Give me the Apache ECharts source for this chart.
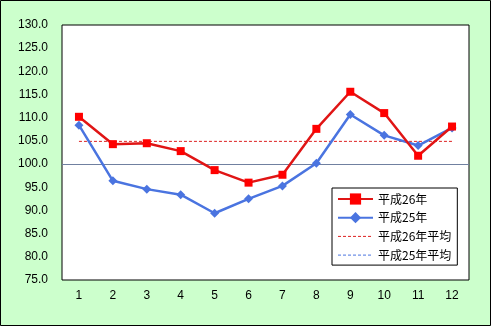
<!DOCTYPE html>
<html><head><meta charset="utf-8">
<script src="https://cdn.jsdelivr.net/npm/echarts@6/dist/echarts.min.js"></script>
<style>html,body{margin:0;padding:0;background:#ccffcc}#c{width:491px;height:326px}</style>
</head><body><div id="c"></div>
<script>
const categories = ['1','2','3','4','5','6','7','8','9','10','11','12'];
const h26 = [110.2,104.3,104.5,102.8,98.7,96.0,97.7,107.6,115.6,111.0,101.8,108.1];
const h25 = [108.4,96.4,94.6,93.4,89.4,92.5,95.3,100.2,110.7,106.2,104.0,107.8];
const avg26 = 104.9;
const avg25 = 100.0;
const baseLine = 100.0;
const yTicks = {min:75, max:130, interval:5};

const red = '#e01515', blue = '#4a74e0', redAvg = '#dd2020', blueAvg = '#4a74e0';
const chart = echarts.init(document.getElementById('c'), null, {renderer:'canvas'});
const lastIdx = categories.length - 1;
const avgLine = v => categories.map(() => v);
chart.setOption({
  backgroundColor:'#ccffcc',
  animation:false,
  textStyle:{fontFamily:'Liberation Sans'},
  graphic:[{type:'rect',shape:{x:0.5,y:0.5,width:490,height:325},style:{fill:'none',stroke:'#000',lineWidth:1},z:100}],
  grid:{left:62,top:25,right:22,bottom:46,show:true,backgroundColor:'#fff',borderColor:'#000',borderWidth:1},
  xAxis:{type:'category',data:categories,boundaryGap:true,
    axisLine:{show:false},axisTick:{show:false},
    axisLabel:{color:'#000',fontSize:12,margin:10,fontFamily:'Liberation Sans'}},
  yAxis:{type:'value',min:yTicks.min,max:yTicks.max,interval:yTicks.interval,
    axisLine:{show:false},axisTick:{show:false},splitLine:{show:false},
    axisLabel:{color:'#000',fontSize:12,margin:14,fontFamily:'Liberation Sans',formatter:v=>v.toFixed(1)}},
  legend:{orient:'vertical',left:332,top:188,width:119,
    backgroundColor:'#fff',borderColor:'#000',borderWidth:1,padding:[4,6,3,5],
    itemWidth:35,itemHeight:14,itemGap:4.7,
    textStyle:{fontFamily:'Noto Sans CJK JP',fontSize:12,color:'#000',lineHeight:14},
    data:[
      {name:'平成26年'},
      {name:'平成25年'},
      {name:'平成26年平均',itemStyle:{opacity:0},lineStyle:{color:redAvg,width:1,type:[3,2]}},
      {name:'平成25年平均',itemStyle:{opacity:0},lineStyle:{color:blueAvg,width:1,type:[3,2]}}
    ]},
  series:[
    {name:'平成25年平均',type:'line',data:[],symbol:'none',
      lineStyle:{color:blueAvg,width:1,type:[3,2]},itemStyle:{color:blueAvg},z:1,
      markLine:{silent:true,symbol:'none',label:{show:false},
        lineStyle:{color:blueAvg,width:1,type:[3,2]},
        data:[[{coord:[0,avg25]},{coord:[lastIdx,avg25]}]]}},
    {name:'base',type:'line',data:[],symbol:'none',z:2,
      markLine:{silent:true,symbol:'none',label:{show:false},
        lineStyle:{color:'#7080a0',width:1,type:'solid'},
        data:[{yAxis:baseLine}]}},
    {name:'平成26年平均',type:'line',data:avgLine(avg26),symbol:'none',silent:true,
      lineStyle:{color:redAvg,width:1,type:[3,2]},itemStyle:{color:redAvg},z:11},
    {name:'平成25年',type:'line',data:h25,symbol:'diamond',symbolSize:9,
      lineStyle:{color:blue,width:2.5},itemStyle:{color:blue},z:20},
    {name:'平成26年',type:'line',data:h26,symbol:'rect',symbolSize:8,
      lineStyle:{color:red,width:2.5},itemStyle:{color:'#ff0000'},z:21}
  ]
});
</script></body></html>
